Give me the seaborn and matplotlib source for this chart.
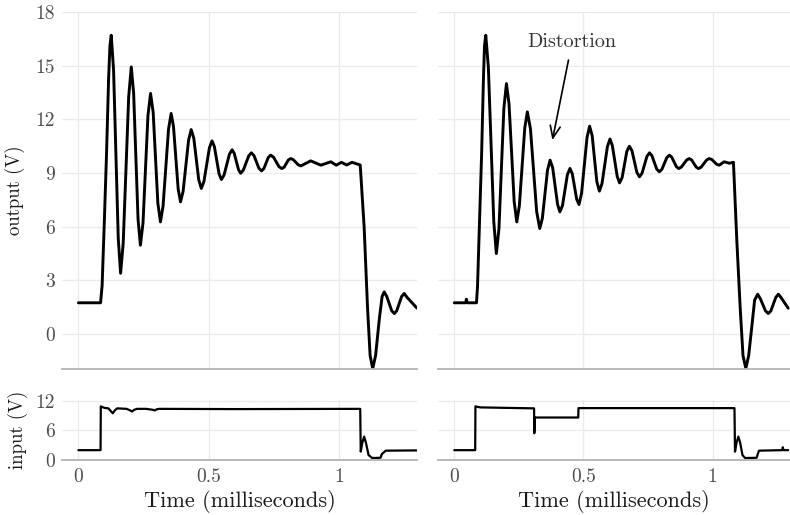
import numpy as np
import pandas as pd
import seaborn as sns
import matplotlib.pyplot as plt

# output voltage, plain step response (left)
left_out_t = [0.0, 0.085, 0.091, 0.100, 0.108, 0.116, 0.121, 0.126, 0.135, 0.153,
              0.162, 0.172, 0.193, 0.203, 0.212, 0.229, 0.238, 0.248, 0.267, 0.277,
              0.287, 0.305, 0.315, 0.325, 0.346, 0.356, 0.365, 0.383, 0.392, 0.402,
              0.423, 0.433, 0.443, 0.462, 0.472, 0.482, 0.503, 0.513, 0.522, 0.540,
              0.549, 0.559, 0.580, 0.590, 0.598, 0.615, 0.623, 0.633, 0.654, 0.664,
              0.674, 0.693, 0.703, 0.712, 0.729, 0.738, 0.749, 0.770, 0.781, 0.790,
              0.806, 0.815, 0.825, 0.844, 0.854, 0.892, 0.931, 0.969, 0.990, 1.010,
              1.030, 1.050, 1.082, 1.097, 1.110, 1.120, 1.130, 1.141, 1.155, 1.166,
              1.174, 1.184, 1.203, 1.213, 1.222, 1.241, 1.251, 1.262, 1.300]
left_out_v = [1.75, 1.75, 2.7, 6.5, 10.1, 14.3, 16.1, 16.7, 14.76, 5.34,
              3.4, 5.08, 13.25, 14.93, 13.48, 6.42, 4.97, 6.21, 12.21, 13.45,
              12.4, 7.32, 6.27, 7.15, 11.45, 12.33, 11.61, 8.11, 7.39, 7.98,
              10.84, 11.43, 10.95, 8.62, 8.14, 8.53, 10.41, 10.8, 10.48, 8.96,
              8.64, 8.88, 10.06, 10.3, 10.11, 9.18, 8.99, 9.16, 9.96, 10.13,
              9.98, 9.27, 9.12, 9.25, 9.87, 10.0, 9.89, 9.36, 9.25, 9.33,
              9.73, 9.81, 9.75, 9.46, 9.4, 9.68, 9.44, 9.63, 9.44, 9.6,
              9.45, 9.6, 9.45, 6.0, 1.5, -1.2, -1.92, -1.2, 0.8, 2.1,
              2.36, 2.1, 1.3, 1.15, 1.3, 2.1, 2.27, 2.05, 1.45]

# output voltage with the distorted input (right)
right_out_t = [0.0, 0.044, 0.047, 0.050, 0.086, 0.090, 0.098, 0.106, 0.113, 0.117,
               0.122, 0.132, 0.153, 0.163, 0.173, 0.192, 0.202, 0.212, 0.232, 0.242,
               0.252, 0.273, 0.283, 0.295, 0.319, 0.331, 0.341, 0.361, 0.371, 0.381,
               0.400, 0.409, 0.419, 0.438, 0.448, 0.457, 0.474, 0.483, 0.493, 0.514,
               0.524, 0.534, 0.552, 0.562, 0.572, 0.593, 0.603, 0.612, 0.631, 0.640,
               0.650, 0.668, 0.678, 0.688, 0.707, 0.717, 0.727, 0.746, 0.756, 0.765,
               0.784, 0.794, 0.804, 0.823, 0.833, 0.842, 0.860, 0.869, 0.879, 0.900,
               0.910, 0.919, 0.937, 0.946, 0.956, 0.977, 0.987, 0.997, 1.016, 1.026,
               1.045, 1.065, 1.081, 1.094, 1.107, 1.118, 1.129, 1.140, 1.152, 1.163,
               1.175, 1.186, 1.205, 1.216, 1.226, 1.245, 1.255, 1.265, 1.293]
right_out_v = [1.75, 1.75, 1.95, 1.75, 1.75, 2.65, 6.4, 10.1, 14.3, 16.1,
               16.7, 14.92, 6.28, 4.5, 5.89, 12.61, 14.0, 12.87, 7.4, 6.27,
               7.17, 11.52, 12.42, 11.47, 6.85, 5.9, 6.46, 9.16, 9.72, 9.3,
               7.25, 6.83, 7.18, 8.91, 9.26, 8.96, 7.54, 7.24, 7.88, 10.98,
               11.62, 11.09, 8.52, 7.99, 8.41, 10.48, 10.9, 10.54, 8.81, 8.45,
               8.75, 10.2, 10.5, 10.25, 9.04, 8.79, 8.99, 9.93, 10.13, 9.98,
               9.22, 9.07, 9.21, 9.86, 10.0, 9.89, 9.36, 9.25, 9.33, 9.73,
               9.81, 9.73, 9.33, 9.25, 9.33, 9.73, 9.81, 9.76, 9.49, 9.44,
               9.63, 9.55, 9.6, 5.25, 1.5, -1.2, -1.92, -1.2, 0.4, 1.9,
               2.23, 1.95, 1.3, 1.15, 1.3, 2.05, 2.23, 2.05, 1.45]

# input voltages
left_in_t = [0.0, 0.085, 0.086, 0.100, 0.115, 0.125, 0.132, 0.140, 0.149, 0.185,
             0.198, 0.206, 0.214, 0.225, 0.260, 0.287, 0.293, 0.300, 0.310, 0.600,
             1.082, 1.084, 1.090, 1.097, 1.104, 1.114, 1.128, 1.160, 1.165, 1.180,
             1.300]
left_in_v = [2.0, 2.0, 10.9, 10.6, 10.5, 9.9, 9.5, 10.1, 10.5, 10.4,
             10.1, 9.86, 10.2, 10.4, 10.4, 10.2, 10.07, 10.3, 10.4, 10.35,
             10.4, 1.7, 3.5, 4.76, 3.5, 1.0, 0.4, 0.45, 1.2, 1.9,
             1.95]

right_in_t = [0.0, 0.081, 0.082, 0.100, 0.200, 0.309, 0.310, 0.312, 0.480, 0.481,
              1.085, 1.087, 1.093, 1.100, 1.107, 1.116, 1.126, 1.171, 1.175, 1.180,
              1.270, 1.272, 1.275, 1.293]
right_in_v = [2.0, 2.0, 10.9, 10.7, 10.6, 10.5, 5.44, 8.64, 8.64, 10.55,
              10.55, 1.7, 3.5, 4.76, 3.5, 1.0, 0.4, 0.45, 1.2, 1.9,
              2.0, 2.6, 2.0, 2.0]

out_ticks = [0, 3, 6, 9, 12, 15, 18]
in_ticks = [0, 6, 12]
time_ticks = [0, 0.5, 1]
time_labels = ['0', '0.5', '1']

sns.set_theme(style="whitegrid")
plt.rcParams['font.family'] = ['cmr10', 'DejaVu Serif']
plt.rcParams['axes.unicode_minus'] = False

fig = plt.figure(figsize=(7.9, 5.15), dpi=100)
W, H = 790, 515

def add_axes(x0, x1, y0, y1):
    return fig.add_axes([x0 / W, 1 - y1 / H, (x1 - x0) / W, (y1 - y0) / H])

ax_lo = add_axes(62, 417, 12, 369)
ax_ro = add_axes(438, 790, 12, 369)
ax_li = add_axes(62, 417, 400, 460)
ax_ri = add_axes(438, 790, 400, 460)

def style(ax, yticks, ylim, show_y, show_x):
    ax.set_facecolor('white')
    for side in ['top', 'left', 'right']:
        ax.spines[side].set_visible(False)
    ax.spines['bottom'].set_color('#b3b3b3')
    ax.spines['bottom'].set_linewidth(1.3)
    ax.grid(True, color='#ebebeb', linewidth=1.0)
    ax.set_xlim(-0.063, 1.30)
    ax.set_ylim(*ylim)
    ax.set_yticks(yticks)
    ax.set_xticks(time_ticks)
    ax.set_xticklabels(time_labels)
    ax.tick_params(length=0, labelsize=14, labelcolor='#4d4d4d', pad=5,
                   labelleft=show_y, labelbottom=show_x)
    ax.tick_params(axis='x', pad=6)
    ax.set_xlabel('')
    ax.set_ylabel('')

series = [
    (ax_lo, left_out_t, left_out_v, 2.1),
    (ax_ro, right_out_t, right_out_v, 2.1),
    (ax_li, left_in_t, left_in_v, 1.6),
    (ax_ri, right_in_t, right_in_v, 1.6),
]
for ax, t, v, lw in series:
    df = pd.DataFrame({'t': t, 'v': v})
    sns.lineplot(data=df, x='t', y='v', ax=ax, color='black', linewidth=lw,
                 sort=False, estimator=None, solid_joinstyle='round')

style(ax_lo, out_ticks, (-1.95, 18.0), True, False)
style(ax_ro, out_ticks, (-1.95, 18.0), False, False)
style(ax_li, in_ticks, (0, 12.2), True, True)
style(ax_ri, in_ticks, (0, 12.2), False, True)

ax_lo.set_ylabel('output (V)', fontsize=13.5, color='#1a1a1a')
ax_lo.yaxis.set_label_coords(-0.104, 0.5)
ax_li.set_ylabel('input (V)', fontsize=13.5, color='#1a1a1a')
ax_li.yaxis.set_label_coords(-0.096, 0.5)
for ax in [ax_li, ax_ri]:
    ax.set_xlabel('Time (milliseconds)', fontsize=16, color='#1a1a1a')
    ax.xaxis.set_label_coords(0.5, -0.5)

ax_ro.annotate('Distortion', xy=(0.38, 10.84), xytext=(0.456, 16.3),
               ha='center', va='center', fontsize=14.5, color='#333333',
               arrowprops=dict(arrowstyle='->,head_length=0.6,head_width=0.25',
                               color='black', lw=1.2, shrinkA=4, shrinkB=0))

fig.savefig('out.png', dpi=100)
